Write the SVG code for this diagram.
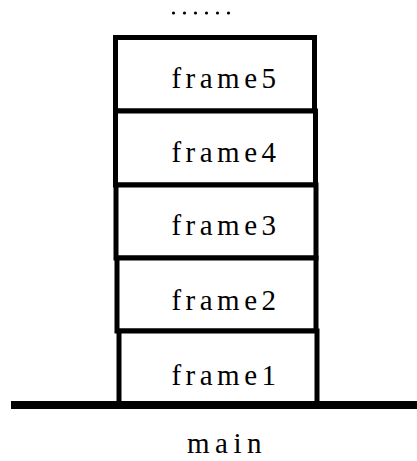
<svg xmlns="http://www.w3.org/2000/svg" width="417" height="461" viewBox="0 0 417 461">
<style>
.box{fill:#fff;stroke:#000;stroke-width:5;stroke-linejoin:miter}
.lbl{font-family:"Liberation Serif","Times New Roman",serif;font-size:29px;fill:#000;text-anchor:middle;letter-spacing:4.5px}
</style>
<rect width="417" height="461" fill="#fff"/>
<g id="dots" fill="#000">
<circle cx="173.5" cy="13" r="1.6"/><circle cx="184.5" cy="13" r="1.6"/><circle cx="195.5" cy="13" r="1.6"/><circle cx="206.5" cy="13" r="1.6"/><circle cx="217.5" cy="13" r="1.6"/><circle cx="228.5" cy="13" r="1.6"/>
</g>
<g id="frame5"><path class="box" d="M115.5 111 L115.5 37.5 L314.5 37.5 L314.5 111 Z"/><text class="lbl" x="226" y="88">frame5</text></g>
<g id="frame4"><path class="box" d="M115.5 185 L115.5 111 L315.5 111 L315.5 185 Z"/><text class="lbl" x="226" y="162">frame4</text></g>
<g id="frame3"><path class="box" d="M116 258 L116 185 L316 185 L316 258 Z"/><text class="lbl" x="226" y="235">frame3</text></g>
<g id="frame2"><path class="box" d="M117 331 L117 258 L316 258 L316 331 Z"/><text class="lbl" x="226" y="310">frame2</text></g>
<g id="frame1"><path class="box" d="M119 405 L119 331 L317 331 L317 405 Z"/><text class="lbl" x="226" y="385">frame1</text></g>
<g id="connectors"><line x1="11" y1="405" x2="417" y2="405" stroke="#000" stroke-width="8"/></g>
<g id="main"><text class="lbl" x="227" y="453" style="letter-spacing:5.5px">main</text></g>
</svg>
